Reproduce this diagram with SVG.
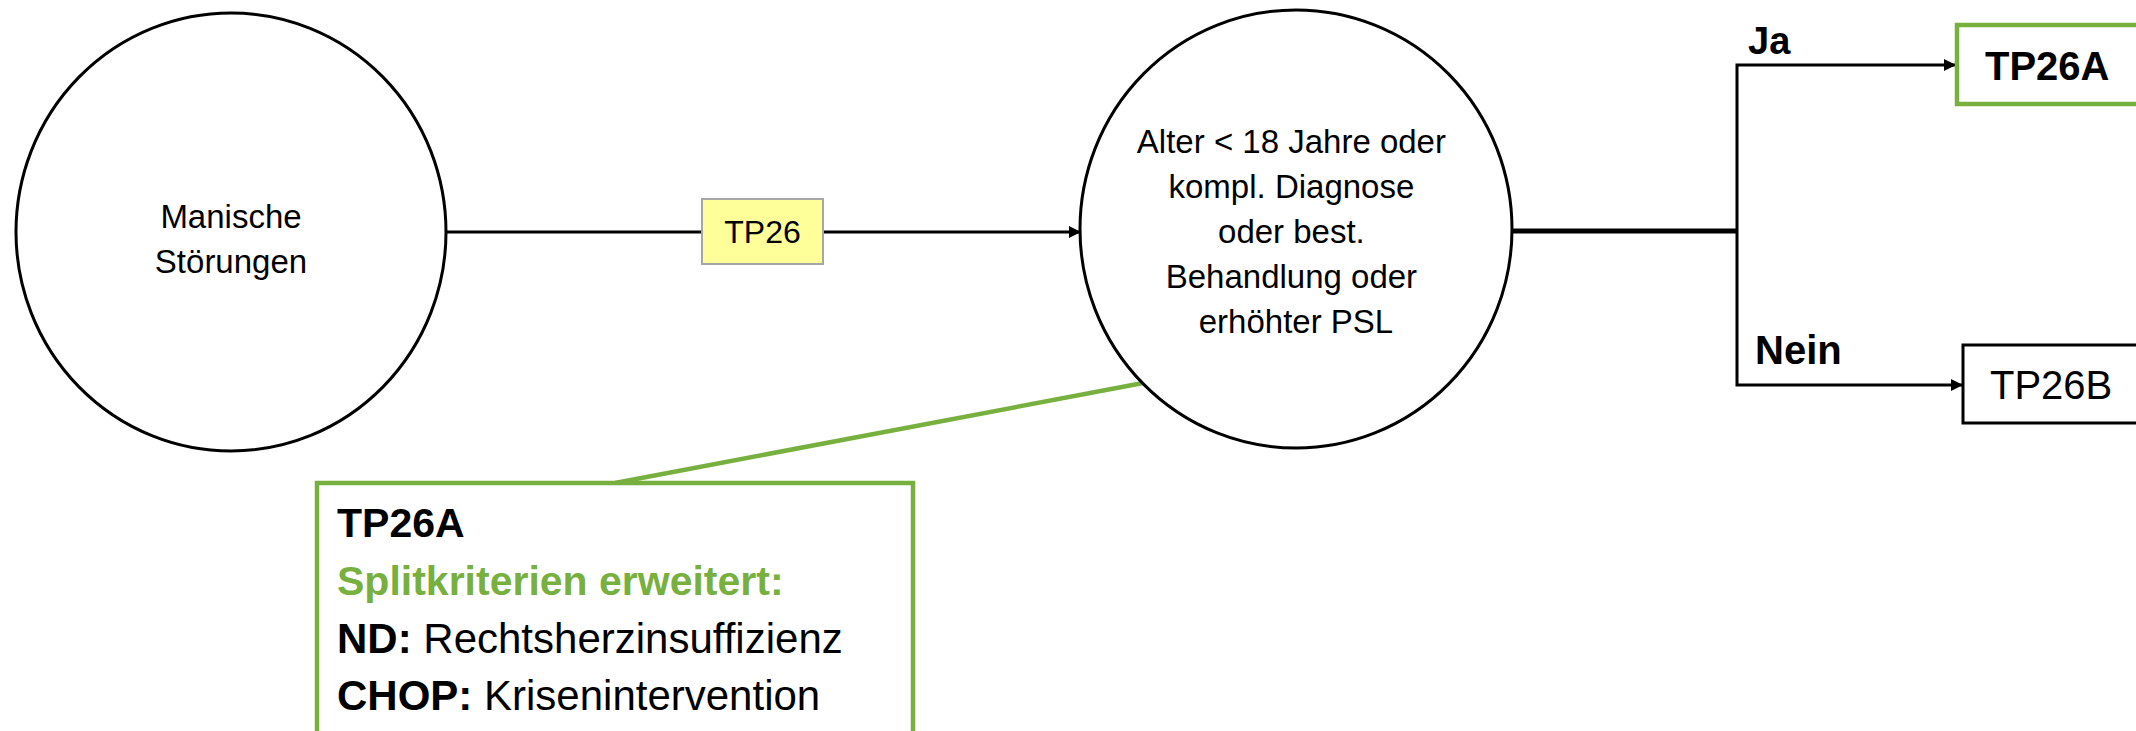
<svg xmlns="http://www.w3.org/2000/svg" width="2136" height="731" viewBox="0 0 2136 731">
<style>
  text { font-family: "Liberation Sans", Arial, sans-serif; fill: #000; }
  .node { fill: #fff; stroke: #000; stroke-width: 3; }
  .conn { fill: none; stroke: #000; stroke-width: 3; }
  .thick { stroke-width: 5; }
  .green { stroke: #77B03F; stroke-width: 4.5; }
  .b { font-weight: bold; }
</style>
<defs>
  <marker id="arrow" markerWidth="12" markerHeight="12" refX="11" refY="6" orient="auto" markerUnits="userSpaceOnUse">
    <path d="M0,0 L12,6 L0,12 Z" fill="#000"/>
  </marker>
</defs>
<rect width="2136" height="731" fill="#fff"/>

<g id="connectors">
  <line class="conn" x1="446" y1="232" x2="702" y2="232"/>
  <line class="conn" x1="823" y1="232" x2="1080" y2="232" marker-end="url(#arrow)"/>
  <line class="conn thick" x1="1512" y1="231" x2="1737" y2="231"/>
  <path class="conn" d="M1737,231 L1737,65 L1955,65" marker-end="url(#arrow)"/>
  <path class="conn" d="M1737,231 L1737,385 L1962,385" marker-end="url(#arrow)"/>
  <line class="conn green" x1="615" y1="483" x2="1143" y2="383"/>
</g>

<g id="node-manische">
  <ellipse class="node" cx="231" cy="232" rx="215" ry="219"/>
  <text x="231" y="228" font-size="33" text-anchor="middle">Manische</text>
  <text x="231" y="273" font-size="33" text-anchor="middle">Störungen</text>
</g>

<g id="label-tp26">
  <rect x="702" y="199" width="121" height="65" fill="#FFFF99" stroke="#A6A6A6" stroke-width="2"/>
  <text x="762.5" y="243" font-size="32" text-anchor="middle">TP26</text>
</g>

<g id="node-decision">
  <ellipse class="node" cx="1296" cy="229" rx="216" ry="219"/>
  <text font-size="33" text-anchor="middle">
    <tspan x="1296" y="153">Alter &lt; 18 Jahre oder</tspan>
    <tspan x="1296" y="198">kompl. Diagnose</tspan>
    <tspan x="1296" y="243">oder best.</tspan>
    <tspan x="1296" y="288">Behandlung oder</tspan>
    <tspan x="1296" y="333">erhöhter PSL</tspan>
  </text>
</g>

<g id="label-ja">
  <text x="1748" y="54" font-size="38" class="b">Ja</text>
</g>
<g id="label-nein">
  <text x="1755" y="364" font-size="40" class="b">Nein</text>
</g>

<g id="node-tp26a">
  <rect x="1957" y="25" width="200" height="79" fill="#fff" stroke="#77B03F" stroke-width="4.5"/>
  <text x="1985" y="80" font-size="40" class="b">TP26A</text>
</g>

<g id="node-tp26b">
  <rect x="1963" y="345" width="200" height="78" fill="#fff" stroke="#000" stroke-width="3"/>
  <text x="1990" y="399" font-size="40">TP26B</text>
</g>

<g id="note-tp26a">
  <rect x="317" y="483" width="596" height="290" fill="#fff" stroke="#77B03F" stroke-width="4.5"/>
  <text x="337" y="537" font-size="41" class="b">TP26A</text>
  <text x="337" y="595" font-size="41" class="b" style="fill:#77B03F">Splitkriterien erweitert:</text>
  <text x="337" y="653" font-size="42"><tspan class="b">ND:</tspan> Rechtsherzinsuffizienz</text>
  <text x="337" y="710" font-size="42"><tspan class="b">CHOP:</tspan> Krisenintervention</text>
</g>
</svg>
